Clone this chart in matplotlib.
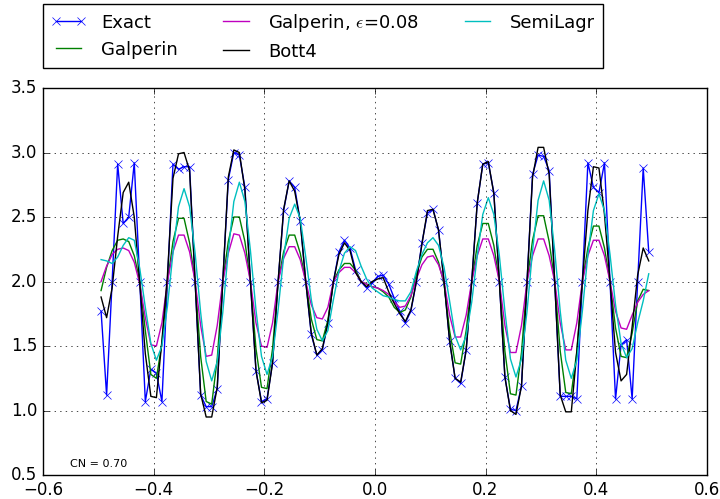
import numpy as np
import matplotlib
matplotlib.use("Agg")
import matplotlib.pyplot as plt

plt.style.use('classic')
plt.rcParams['figure.facecolor'] = 'white'
plt.rcParams['savefig.facecolor'] = 'white'

x = np.round(np.arange(-0.495, 0.496, 0.01), 3)

exact = [1.77, 1.12, 2.00, 2.91, 2.45, 2.50, 2.92, 2.00, 1.07, 1.32,
         1.29, 1.07, 2.00, 2.91, 2.87, 2.89, 2.89, 2.00, 1.12, 1.03,
         1.03, 1.17, 2.00, 2.79, 3.00, 2.98, 2.73, 2.00, 1.31, 1.07,
         1.09, 1.37, 2.00, 2.55, 2.78, 2.73, 2.47, 2.00, 1.59, 1.43,
         1.47, 1.68, 2.00, 2.23, 2.32, 2.26, 2.09, 2.00, 1.95, 1.99,
         2.04, 2.05, 1.98, 1.87, 1.77, 1.68, 1.77, 2.00, 2.30, 2.53,
         2.56, 2.40, 2.00, 1.54, 1.25, 1.21, 1.47, 2.00, 2.61, 2.91,
         2.92, 2.69, 2.00, 1.26, 1.01, 1.00, 1.19, 2.00, 2.83, 2.98,
         2.97, 2.86, 2.00, 1.11, 1.11, 1.11, 1.09, 2.00, 2.92, 2.73,
         2.69, 2.92, 2.00, 1.09, 1.51, 1.55, 1.09, 2.00, 2.88, 2.23]

galperin = [1.93, 2.11, 2.24, 2.32, 2.33, 2.31, 2.20, 2.00, 1.62, 1.28,
            1.25, 1.52, 2.00, 2.31, 2.49, 2.49, 2.30, 2.00, 1.42, 1.07,
            1.05, 1.40, 2.00, 2.31, 2.50, 2.50, 2.31, 2.00, 1.48, 1.18,
            1.17, 1.48, 2.00, 2.23, 2.36, 2.36, 2.22, 2.00, 1.71, 1.55,
            1.54, 1.70, 2.00, 2.09, 2.14, 2.14, 2.09, 2.00, 1.98, 1.96,
            1.95, 1.92, 1.88, 1.80, 1.76, 1.78, 1.88, 2.06, 2.19, 2.25,
            2.25, 2.15, 1.98, 1.62, 1.37, 1.36, 1.62, 2.00, 2.28, 2.45,
            2.45, 2.28, 2.00, 1.46, 1.13, 1.12, 1.45, 2.00, 2.32, 2.51,
            2.51, 2.31, 2.00, 1.46, 1.14, 1.13, 1.46, 2.00, 2.26, 2.43,
            2.43, 2.26, 2.00, 1.64, 1.42, 1.41, 1.60, 1.85, 1.94, 1.93]

galperin_eps = [2.00, 2.12, 2.21, 2.25, 2.26, 2.24, 2.15, 1.98, 1.72, 1.51,
                1.50, 1.68, 2.00, 2.23, 2.36, 2.36, 2.23, 2.00, 1.66, 1.42,
                1.43, 1.66, 2.00, 2.22, 2.37, 2.36, 2.22, 2.00, 1.68, 1.50,
                1.49, 1.68, 2.00, 2.18, 2.27, 2.27, 2.17, 2.00, 1.82, 1.72,
                1.71, 1.80, 2.00, 2.07, 2.11, 2.11, 2.07, 2.00, 1.98, 1.96,
                1.95, 1.93, 1.90, 1.84, 1.80, 1.81, 1.89, 2.02, 2.13, 2.19,
                2.20, 2.13, 2.00, 1.74, 1.57, 1.57, 1.74, 2.00, 2.20, 2.33,
                2.33, 2.20, 2.00, 1.66, 1.45, 1.45, 1.66, 2.00, 2.20, 2.33,
                2.33, 2.20, 2.00, 1.68, 1.47, 1.47, 1.68, 2.00, 2.20, 2.32,
                2.32, 2.20, 2.00, 1.77, 1.64, 1.63, 1.74, 1.84, 1.90, 1.93]

bott4 = [1.88, 1.72, 1.95, 2.35, 2.69, 2.77, 2.50, 1.98, 1.44, 1.11,
         1.10, 1.54, 2.05, 2.80, 2.99, 3.00, 2.86, 2.00, 1.13, 0.95,
         0.95, 1.18, 2.00, 2.81, 3.02, 3.00, 2.71, 2.00, 1.31, 1.06,
         1.08, 1.37, 2.00, 2.56, 2.78, 2.70, 2.47, 2.00, 1.60, 1.43,
         1.48, 1.68, 2.00, 2.21, 2.30, 2.24, 2.07, 2.00, 1.96, 2.00,
         2.02, 2.03, 1.92, 1.83, 1.75, 1.69, 1.78, 2.00, 2.29, 2.55,
         2.56, 2.40, 2.00, 1.54, 1.25, 1.22, 1.47, 2.00, 2.61, 2.91,
         2.93, 2.68, 2.00, 1.26, 1.00, 0.97, 1.19, 2.00, 2.81, 3.04,
         3.04, 2.83, 2.00, 1.12, 0.99, 0.99, 1.45, 2.00, 2.55, 2.89,
         2.88, 2.52, 2.00, 1.45, 1.23, 1.28, 1.65, 2.05, 2.26, 2.16]

semilagr = [2.17, 2.16, 2.14, 2.19, 2.28, 2.34, 2.32, 2.10, 1.80, 1.52,
            1.39, 1.50, 1.81, 2.22, 2.58, 2.72, 2.58, 2.22, 1.76, 1.38,
            1.23, 1.38, 1.76, 2.24, 2.62, 2.77, 2.62, 2.24, 1.78, 1.42,
            1.28, 1.42, 1.78, 2.19, 2.49, 2.60, 2.49, 2.19, 1.86, 1.63,
            1.54, 1.62, 1.86, 2.08, 2.22, 2.27, 2.24, 2.12, 2.02, 1.95,
            1.92, 1.89, 1.88, 1.86, 1.85, 1.85, 1.92, 2.08, 2.21, 2.30,
            2.34, 2.28, 2.11, 1.85, 1.58, 1.47, 1.58, 1.84, 2.20, 2.52,
            2.65, 2.52, 2.20, 1.77, 1.40, 1.26, 1.40, 1.77, 2.24, 2.63,
            2.78, 2.63, 2.24, 1.77, 1.39, 1.25, 1.39, 1.77, 2.21, 2.55,
            2.68, 2.55, 2.21, 1.82, 1.52, 1.41, 1.48, 1.68, 1.85, 2.06]

labels = ['Exact', 'Galperin', r'Galperin, $\epsilon$=0.08', 'Bott4', 'SemiLagr']
xticks = [-0.6, -0.4, -0.2, 0.0, 0.2, 0.4, 0.6]
yticks = [0.5, 1.0, 1.5, 2.0, 2.5, 3.0, 3.5]

fig = plt.figure(figsize=(7.2, 4.99), dpi=100)
ax = fig.add_axes([0.0597, 0.048, 0.922, 0.7756])

ax.plot(x, exact, 'bx-', label=labels[0], lw=1.0, ms=6)
ax.plot(x, galperin, 'g-', label=labels[1], lw=1.0)
ax.plot(x, galperin_eps, 'm-', label=labels[2], lw=1.0)
ax.plot(x, bott4, 'k-', label=labels[3], lw=1.0)
ax.plot(x, semilagr, 'c-', label=labels[4], lw=1.0)

ax.set_xlim(-0.6, 0.6)
ax.set_ylim(0.5, 3.5)
ax.set_xticks(xticks)
ax.set_yticks(yticks)
ax.grid(True)
ax.tick_params(labelsize=12)

ax.text(0.04, 0.02, 'CN = 0.70', transform=ax.transAxes, fontsize=8)

ax.legend(loc='lower left', bbox_to_anchor=(0.0, 1.052, 0.843, 0.155),
          mode='expand', ncol=3, fontsize=13, borderaxespad=0.0,
          numpoints=2, frameon=True)

fig.savefig('out.png', dpi=100)
